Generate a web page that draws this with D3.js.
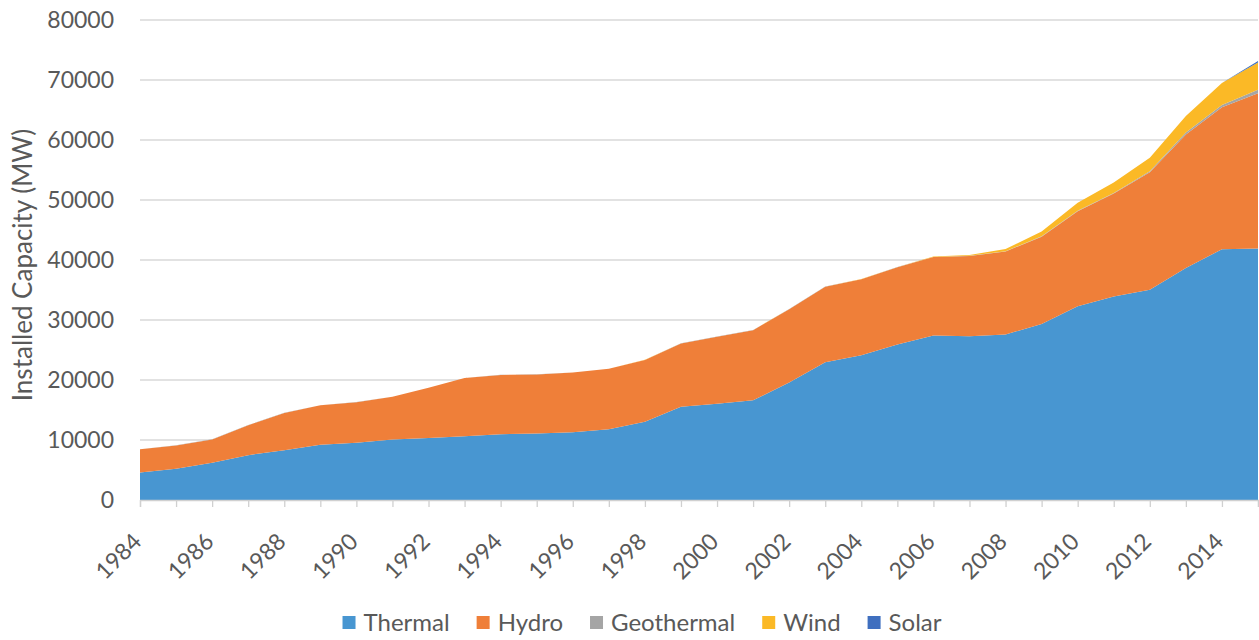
<!DOCTYPE html>
<html><head><meta charset="utf-8">
<script src="https://cdn.jsdelivr.net/npm/d3@7"></script>
<style>body{margin:0;background:#fff}svg{display:block}text{font-family:Lato,"Open Sans",sans-serif;fill:#595959}</style>
</head><body><svg id="c" width="1259" height="640"></svg>
<script>
const years = d3.range(1984, 2016);
const thermal = [4569,5229,6221,7474,8299,9194,9536,10078,10320,10638,10978,11074,11297,11772,13021,15556,16053,16623,19569,22974,24145,25902,27420,27272,27595,29339,32279,33931,35027,38648,41802,41903];
const hydro = [3875,3875,3878,5003,6218,6597,6764,7114,8379,9682,9865,9863,9935,10103,10307,10537,11175,11673,12241,12579,12645,12906,13063,13395,13829,14553,15831,17137,19609,22289,23643,25868];
const geothermal = [18,18,18,18,18,18,18,18,18,18,18,18,18,18,18,18,18,18,18,15,15,15,23,23,30,77,94,114,162,311,405,624];
const wind = [0,0,0,0,0,0,0,0,0,0,0,0,0,0,9,9,19,19,19,19,19,20,59,146,364,792,1320,1729,2261,2760,3630,4503];
const solar = [0,0,0,0,0,0,0,0,0,0,0,0,0,0,0,0,0,0,0,0,0,0,0,0,0,0,0,0,0,0,40,249];
const seriesNames = ["Thermal","Hydro","Geothermal","Wind","Solar"];
const seriesColors = ["#4896d1","#ef7f39","#a5a5a5","#fbb926","#3f6fbf"];
const yTicks = [0,10000,20000,30000,40000,50000,60000,70000,80000];
const xLabelYears = d3.range(1984, 2016, 2);
const yTitle = "Installed Capacity (MW)";

(function(){
const svg = d3.select("#c");
const mLeft = 140, mRight = 1258, mTop = 20, mBottom = 500;
const x = d3.scaleLinear().domain([1984, 2015]).range([mLeft, mRight]);
const y = d3.scaleLinear().domain([0, 80000]).range([mBottom, mTop]);

const rows = years.map((yr, i) => ({year: yr, Thermal: thermal[i], Hydro: hydro[i], Geothermal: geothermal[i], Wind: wind[i], Solar: solar[i]}));
const stacked = d3.stack().keys(seriesNames)(rows);

svg.append("g").selectAll("line").data(yTicks.slice(1)).join("line")
  .attr("x1", mLeft).attr("x2", mRight).attr("y1", d => y(d)).attr("y2", d => y(d))
  .attr("stroke", "#d9d9d9").attr("stroke-width", 1.3);

svg.append("g").selectAll("text").data(yTicks).join("text")
  .attr("x", 114).attr("y", d => y(d)).attr("dy", "0.36em").attr("text-anchor", "end")
  .attr("font-size", 23).text(d => d);

const area = d3.area().x(d => x(d.data.year)).y0(d => y(d[0])).y1(d => y(d[1]));
svg.append("g").selectAll("path").data(stacked).join("path")
  .attr("d", area).attr("fill", (d, i) => seriesColors[i]);

const xAxis = d3.axisBottom(x).tickValues(years).tickSize(7).tickFormat("");
const gx = svg.append("g").attr("transform", `translate(0,${mBottom})`).call(xAxis);
gx.select(".domain").attr("stroke", "#d0d0d0").attr("stroke-width", 1.3);
gx.selectAll(".tick line").attr("stroke", "#d0d0d0").attr("stroke-width", 1.3);

svg.append("g").selectAll("text").data(xLabelYears).join("text")
  .attr("transform", d => `translate(${x(d) + 3},${mBottom + 43}) rotate(-45)`)
  .attr("text-anchor", "end").attr("font-size", 23).text(d => d);

svg.append("text").attr("transform", `translate(32,265) rotate(-90)`)
  .attr("text-anchor", "middle").attr("font-size", 26).text(yTitle);

const lg = svg.append("g");
const items = lg.selectAll("g").data(seriesNames).join("g");
items.append("rect").attr("width", 13).attr("height", 13).attr("y", -6.5).attr("fill", (d, i) => seriesColors[i]);
items.append("text").attr("x", 21).attr("y", 8.5).attr("font-size", 24).text(d => d);
let cx = 0;
items.each(function() {
  const g = d3.select(this);
  g.attr("transform", `translate(${cx},0)`);
  cx += 21 + g.select("text").node().getComputedTextLength() + 27;
});
const totalW = cx - 27;
lg.attr("transform", `translate(${642 - totalW / 2},622.5)`);
})();
</script></body></html>
